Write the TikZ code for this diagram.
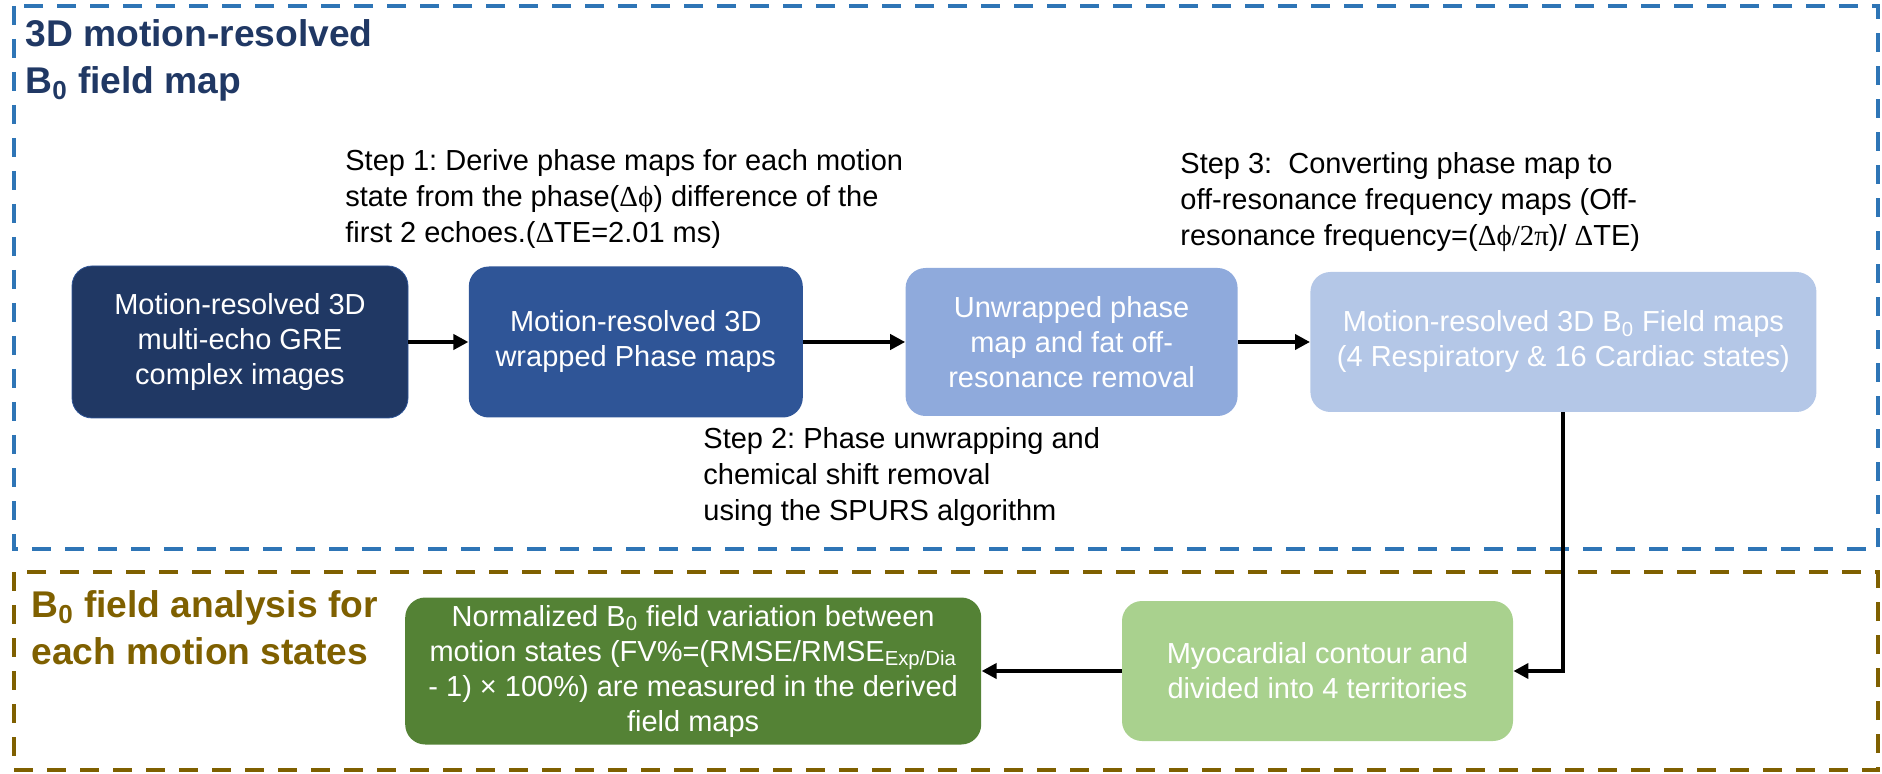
\documentclass[tikz,border=0pt]{standalone}
\usepackage{fontspec}
\setmainfont{Liberation Sans}
\newfontfamily\greekfont{Liberation Serif}
\usepackage{tikz}
\usetikzlibrary{positioning,arrows.meta}

\definecolor{navyblue}{HTML}{203864}
\definecolor{midblue}{HTML}{2F5597}
\definecolor{softblue}{HTML}{8FAADC}
\definecolor{paleblue}{HTML}{B4C7E7}
\definecolor{frameblue}{HTML}{2E75B6}
\definecolor{ochre}{HTML}{7F6000}
\definecolor{palegreen}{HTML}{A9D18E}
\definecolor{darkgreen}{HTML}{548235}

\frenchspacing

\begin{document}
\begin{tikzpicture}[x=0.5pt, y=-0.5pt,
		boxnode/.style={rectangle, rounded corners=10pt, text=white, align=center, inner sep=0pt, font=\fontsize{14.5}{17.5}\selectfont},
		stepnode/.style={anchor=north west, inner sep=0pt, align=left, font=\fontsize{14.5}{18}\selectfont},
		titlenode/.style={anchor=north west, inner sep=0pt, align=left, font=\fontsize{18.6}{23.5}\selectfont\bfseries},
		framebox/.style={line width=2pt, dash pattern=on 9.5pt off 7pt},
		arrowline/.style={line width=2pt, -{Triangle[length=7.5pt,width=7.5pt]}},
	]

		\useasboundingbox (0,0) rectangle (1882,774);

		% frames
		\draw[framebox, draw=frameblue] (14,6) rectangle (1878,549);
		\draw[framebox, draw=ochre] (14,572) rectangle (1878,770);

		% titles
		\node[titlenode, text=navyblue] (maptitle) at (25,19) {3D motion-resolved\\B\textsubscript{0} field map};
		\node[titlenode, text=ochre] (analysistitle) at (31,590) {B\textsubscript{0} field analysis for\\each motion states};

		% nodes
		\node[boxnode, fill=navyblue, draw=midblue, minimum width=168pt, minimum height=76pt] (complex) at (240,342) {Motion-resolved 3D\\multi-echo GRE\\complex images};
		\node[boxnode, fill=midblue, minimum width=167pt, minimum height=75.5pt] (wrapped) [right=30pt of complex] {Motion-resolved 3D\\wrapped Phase maps};
		\node[boxnode, fill=softblue, minimum width=166pt, minimum height=74pt] (unwrapped) [right=51pt of wrapped] {Unwrapped phase\\map and fat off-\\resonance removal};
		\node[boxnode, fill=paleblue, minimum width=253pt, minimum height=70pt] (fieldmap) [right=36pt of unwrapped] {Motion-resolved 3D B\textsubscript{0} Field maps\\(4 Respiratory \& 16 Cardiac states)};
		\node[boxnode, fill=palegreen, minimum width=195.5pt, minimum height=70pt] (contour) at (1317.5,671) {Myocardial contour and\\divided into 4 territories};
		\node[boxnode, fill=darkgreen, minimum width=288pt, minimum height=73.5pt] (variation) [left=70pt of contour] {Normalized B\textsubscript{0} field variation between\\motion states (FV\%=(RMSE/RMSE\textsubscript{Exp/Dia}\\- 1) × 100\%) are measured in the derived\\field maps};

		% step notes
		\node[stepnode] (stepone) at (345,149) {Step 1: Derive phase maps for each motion\\state from the phase({\greekfont Δϕ}) difference of the\\first 2 echoes.({\greekfont Δ}TE=2.01 ms)};
		\node[stepnode] (steptwo) at (703,427) {Step 2: Phase unwrapping and\\chemical shift removal\\using the SPURS algorithm};
		\node[stepnode] (stepthree) at (1180,152) {Step 3:\ \ Converting phase map to\\off-resonance frequency maps (Off-\\resonance frequency=({\greekfont Δϕ/2π})/ {\greekfont Δ}TE)};

		% lines
		\draw[arrowline] (complex) -- (wrapped);
		\draw[arrowline] (wrapped) -- (unwrapped);
		\draw[arrowline] (unwrapped) -- (fieldmap);
		\draw[arrowline] (fieldmap.south) |- (contour.east);
		\draw[arrowline] (contour) -- (variation);

	\end{tikzpicture}
\end{document}
